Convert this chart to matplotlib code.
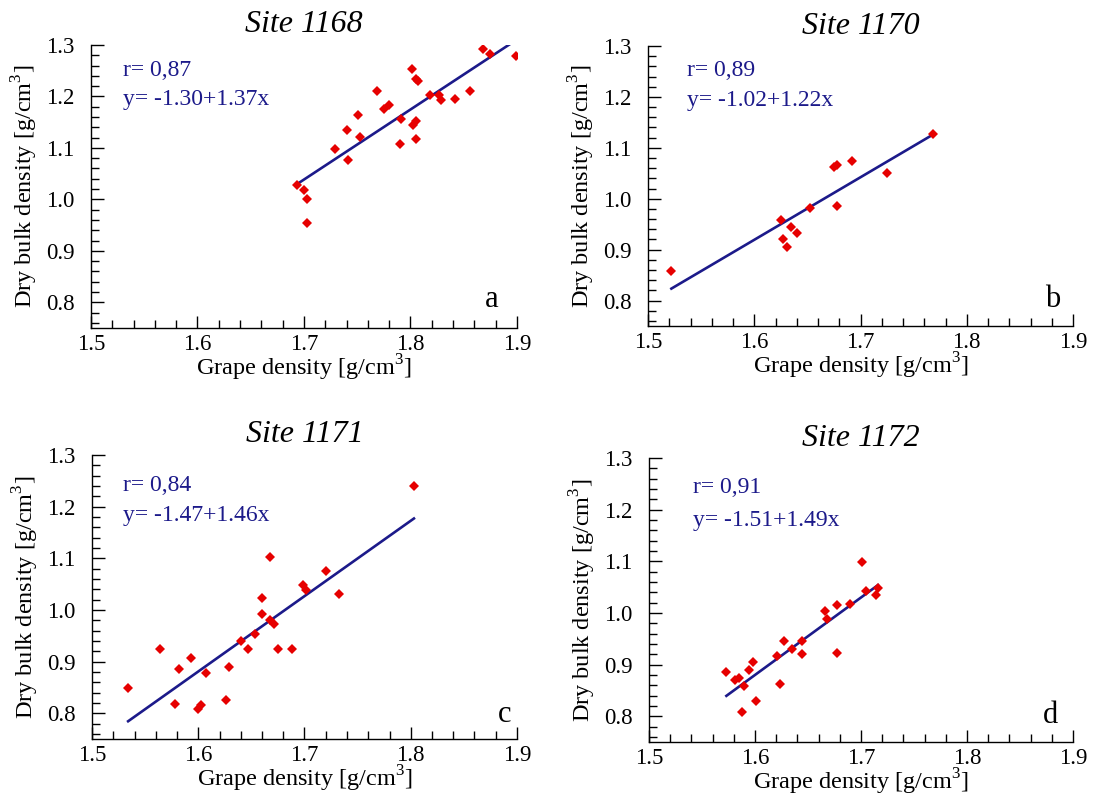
import numpy as np
import matplotlib.pyplot as plt
from matplotlib.ticker import MultipleLocator

plt.rcParams['font.family'] = 'Liberation Serif'
plt.rcParams['mathtext.fontset'] = 'custom'
plt.rcParams['mathtext.rm'] = 'Liberation Serif'

# Data
SITES = ["Site 1168", "Site 1170", "Site 1171", "Site 1172"]
LETTERS = ["a", "b", "c", "d"]
R_TEXT = ["0,87", "0,89", "0,84", "0,91"]
EQ_TEXT = ["-1.30+1.37x", "-1.02+1.22x", "-1.47+1.46x", "-1.51+1.49x"]

grape_1168 = [1.693, 1.700, 1.703, 1.703, 1.729, 1.741, 1.740, 1.751, 1.753, 1.769,
              1.775, 1.780, 1.791, 1.790, 1.801, 1.805, 1.807, 1.802, 1.805, 1.805,
              1.818, 1.827, 1.829, 1.842, 1.856, 1.868, 1.875, 1.899]
dbd_1168 = [1.027, 1.019, 1.000, 0.955, 1.097, 1.077, 1.134, 1.164, 1.122, 1.211,
            1.176, 1.184, 1.157, 1.108, 1.253, 1.234, 1.230, 1.145, 1.153, 1.118,
            1.203, 1.203, 1.193, 1.195, 1.211, 1.292, 1.283, 1.279]

grape_1170 = [1.522, 1.625, 1.627, 1.631, 1.635, 1.640, 1.652, 1.675, 1.678, 1.678,
              1.692, 1.725, 1.768]
dbd_1170 = [0.858, 0.959, 0.921, 0.905, 0.944, 0.932, 0.982, 1.063, 1.067, 0.986,
            1.074, 1.051, 1.128]

grape_1171 = [1.534, 1.564, 1.578, 1.582, 1.593, 1.600, 1.603, 1.607, 1.626, 1.629,
              1.640, 1.647, 1.653, 1.660, 1.660, 1.668, 1.671, 1.668, 1.675, 1.688,
              1.699, 1.701, 1.720, 1.732, 1.803]
dbd_1171 = [0.848, 0.924, 0.817, 0.886, 0.907, 0.808, 0.816, 0.878, 0.826, 0.889,
            0.939, 0.924, 0.954, 0.993, 1.023, 0.981, 0.973, 1.103, 0.924, 0.924,
            1.049, 1.038, 1.076, 1.031, 1.240]

grape_1172 = [1.573, 1.581, 1.585, 1.588, 1.590, 1.594, 1.598, 1.601, 1.621, 1.624,
              1.627, 1.635, 1.644, 1.644, 1.666, 1.668, 1.677, 1.677, 1.690, 1.701,
              1.705, 1.714, 1.716]
dbd_1172 = [0.885, 0.870, 0.874, 0.809, 0.859, 0.890, 0.905, 0.829, 0.917, 0.863,
            0.946, 0.931, 0.946, 0.920, 1.004, 0.989, 1.015, 0.923, 1.018, 1.098,
            1.042, 1.034, 1.048]

GRAPE = [grape_1168, grape_1170, grape_1171, grape_1172]
DBD = [dbd_1168, dbd_1170, dbd_1171, dbd_1172]

# Layout (pixels: left, top, right, bottom) and text placement (axes fraction)
FIG_W, FIG_H = 1096, 798
AXES_BOX = [(91, 45, 517, 328), (648, 46, 1073, 326),
            (92, 455, 517, 739), (649, 458, 1073, 742)]
STAT_POS = [(0.075, 0.91, 0.806), (0.092, 0.914, 0.807),
            (0.073, 0.894, 0.788), (0.104, 0.897, 0.780)]
LETTER_POS = [(0.94, 0.075), (0.953, 0.067), (0.972, 0.061), (0.947, 0.068)]

RED = '#e60000'
NAVY = '#1c1a8a'

fig = plt.figure(figsize=(FIG_W / 100, FIG_H / 100), dpi=100)

for i in range(4):
    l, t, r, b = AXES_BOX[i]
    ax = fig.add_axes([l / FIG_W, (FIG_H - b) / FIG_H, (r - l) / FIG_W, (b - t) / FIG_H])
    x = np.array(GRAPE[i])
    y = np.array(DBD[i])

    slope, icpt = np.polyfit(x, y, 1)
    xl = np.array([x.min(), x.max()])
    ax.plot(xl, icpt + slope * xl, color=NAVY, lw=1.9, zorder=2)
    ax.plot(x, y, 'D', color=RED, ms=5, mew=0, zorder=3)

    ax.set_xlim(1.5, 1.9)
    ax.set_ylim(0.75, 1.3)
    ax.xaxis.set_major_locator(MultipleLocator(0.1))
    ax.xaxis.set_minor_locator(MultipleLocator(0.02))
    ax.yaxis.set_major_locator(MultipleLocator(0.1))
    ax.yaxis.set_minor_locator(MultipleLocator(0.02))
    ax.xaxis.set_major_formatter(lambda v, p: f"{v:.1f}")
    ax.yaxis.set_major_formatter(lambda v, p: f"{v:.1f}")
    ax.tick_params(which='both', direction='in', width=1, labelsize=16.5)
    ax.tick_params(which='major', length=9)
    ax.tick_params(which='minor', length=6)
    ax.tick_params(axis='y', pad=12)
    ax.tick_params(axis='x', pad=4)
    for side in ['top', 'right']:
        ax.spines[side].set_visible(False)
    for side in ['left', 'bottom']:
        ax.spines[side].set_linewidth(1)

    ax.set_title(SITES[i], fontsize=23, style='italic', pad=9)
    ax.set_xlabel("Grape density [g/cm$^3$]", fontsize=17.5, labelpad=-1)
    ax.set_ylabel("Dry bulk density [g/cm$^3$]", fontsize=17.5, labelpad=4)

    sx, sy1, sy2 = STAT_POS[i]
    ax.text(sx, sy1, "r= " + R_TEXT[i], transform=ax.transAxes, color=NAVY,
            fontsize=17, va='center', ha='left')
    ax.text(sx, sy2, "y= " + EQ_TEXT[i], transform=ax.transAxes, color=NAVY,
            fontsize=17, va='center', ha='left')
    lx, ly = LETTER_POS[i]
    ax.text(lx, ly, LETTERS[i], transform=ax.transAxes, fontsize=22,
            ha='center', va='baseline')

fig.savefig('out.png', dpi=100)
